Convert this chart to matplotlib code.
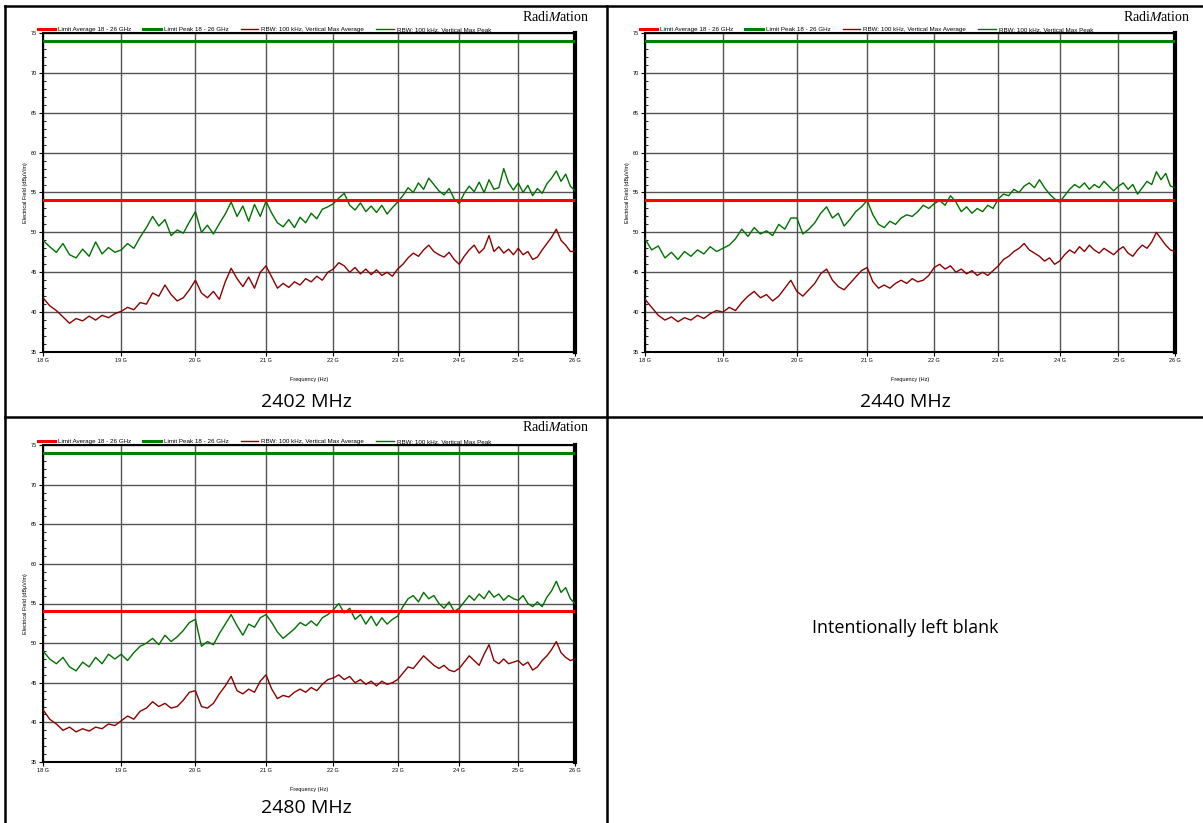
import numpy as np
import matplotlib
matplotlib.use('Agg')
from matplotlib import pyplot as plt
from matplotlib.lines import Line2D
from matplotlib.ticker import FixedLocator, MultipleLocator, NullLocator

plt.rcParams['font.family'] = ['Liberation Sans', 'DejaVu Sans']
plt.rcParams['mathtext.fontset'] = 'stix'

# frequency axis (GHz), sweep 18 - 26 GHz
tick_ghz = [18, 19, 20, 21, 22, 23, 24, 25, 26]
tick_labels = ['18 G', '19 G', '20 G', '21 G', '22 G', '23 G', '24 G', '25 G', '26 G']
limit_average = 54.0
limit_peak = 74.0

# 2402 MHz, 12 samples per GHz
peak_2402 = [
    49.0, 48.2, 47.5, 48.6, 47.2, 46.8, 47.9, 47.0, 48.8, 47.3, 48.1, 47.5,
    47.8, 48.6, 48.0, 49.4, 50.6, 52.0, 50.8, 51.6, 49.6, 50.3, 49.9, 51.3,
    52.6, 50.0, 50.9, 49.8, 51.1, 52.3, 53.8, 52.0, 53.3, 51.4, 53.5, 52.0,
    53.9, 52.4, 51.2, 50.7, 51.6, 50.6, 51.9, 51.2, 52.4, 51.7, 52.9, 53.2,
    53.6, 54.3, 54.9, 53.4, 52.8, 53.7, 52.6, 53.3, 52.5, 53.4, 52.3, 53.1,
    53.8, 54.6, 55.6, 55.0, 56.2, 55.4, 56.8, 56.0, 55.2, 54.7, 55.5, 54.2,
    53.6, 54.9, 55.8, 55.1, 56.3, 55.0, 56.6, 55.4, 55.6, 58.0, 56.2, 55.3,
    56.2, 55.0, 55.9, 54.6, 55.5, 54.9, 56.1, 56.8, 57.7, 56.4, 57.3, 55.8,
    55.2]
avg_2402 = [
    41.8, 40.8, 40.2, 39.4, 38.6, 39.2, 38.9, 39.5, 39.0, 39.6, 39.3, 39.8,
    40.1, 40.6, 40.3, 41.2, 41.0, 42.4, 42.0, 43.4, 42.2, 41.4, 41.8, 42.8,
    44.0, 42.4, 41.8, 42.6, 41.6, 43.8, 45.5, 44.2, 43.2, 44.4, 43.0, 45.0,
    45.8, 44.4, 43.0, 43.6, 43.1, 43.8, 43.4, 44.2, 43.8, 44.5, 44.0, 45.0,
    45.4, 46.2, 45.8, 45.0, 45.6, 44.8, 45.4, 44.7, 45.3, 44.6, 45.0, 44.5,
    45.4, 46.0, 46.8, 47.4, 47.0, 47.8, 48.4, 47.6, 47.2, 46.9, 47.5, 46.6,
    46.0, 47.0, 47.8, 48.4, 47.4, 48.0, 49.6, 47.6, 48.2, 47.4, 47.9, 47.2,
    48.0, 47.2, 47.6, 46.6, 46.9, 47.8, 48.6, 49.4, 50.4, 49.0, 48.4, 47.6,
    47.6]

# 2440 MHz
peak_2440 = [
    49.2, 47.8, 48.3, 46.8, 47.5, 46.6, 47.6, 47.0, 47.8, 47.3, 48.2, 47.6,
    48.0, 48.4, 49.2, 50.4, 49.5, 50.6, 49.8, 50.2, 49.6, 51.0, 50.4, 51.8,
    51.8, 49.8, 50.4, 51.2, 52.4, 53.2, 51.8, 52.4, 50.8, 51.6, 52.6, 53.2,
    54.0, 52.2, 51.0, 50.6, 51.4, 51.0, 51.8, 52.2, 52.0, 52.6, 53.4, 53.0,
    53.6, 54.0, 53.4, 54.6, 53.8, 52.6, 53.2, 52.4, 53.0, 52.6, 53.4, 53.0,
    54.2, 54.8, 54.6, 55.4, 55.0, 55.8, 56.2, 55.6, 56.6, 55.6, 54.8, 54.2,
    53.8, 54.6, 55.4, 56.0, 55.6, 56.2, 55.4, 56.0, 55.6, 56.4, 55.8, 55.2,
    55.8, 56.2, 55.4, 56.0, 54.8, 55.6, 56.4, 56.0, 57.6, 56.6, 57.4, 55.8,
    55.6]
avg_2440 = [
    41.6, 40.6, 39.6, 39.0, 39.4, 38.8, 39.3, 39.0, 39.6, 39.2, 39.8, 40.2,
    40.0, 40.6, 40.2, 41.2, 42.0, 42.6, 41.8, 42.2, 41.4, 42.0, 43.0, 44.0,
    42.6, 42.0, 42.8, 43.6, 44.8, 45.4, 44.0, 43.2, 42.8, 43.6, 44.4, 45.2,
    45.6, 43.8, 43.0, 43.4, 43.0, 43.6, 44.0, 43.6, 44.2, 43.8, 44.0, 44.6,
    45.6, 46.0, 45.4, 45.8, 45.0, 45.4, 44.8, 45.2, 44.6, 45.0, 44.6, 45.2,
    45.8, 46.6, 47.0, 47.6, 48.0, 48.6, 47.8, 47.4, 47.0, 46.4, 46.8, 46.0,
    46.4, 47.2, 47.8, 47.4, 48.2, 47.6, 48.4, 47.8, 47.4, 48.0, 47.6, 47.2,
    47.8, 48.2, 47.4, 47.0, 47.8, 48.4, 48.0, 48.8, 50.0, 49.2, 48.4, 47.8,
    47.6]

# 2480 MHz
peak_2480 = [
    49.0, 48.0, 47.4, 48.2, 47.0, 46.5, 47.6, 47.0, 48.2, 47.4, 48.6, 48.0,
    48.6, 47.8, 48.8, 49.6, 50.0, 50.6, 49.8, 51.0, 50.2, 50.8, 51.6, 52.6,
    53.0, 49.6, 50.2, 49.8, 51.2, 52.4, 53.6, 52.2, 51.0, 52.4, 52.0, 53.2,
    53.6, 52.6, 51.4, 50.6, 51.2, 51.8, 52.6, 52.2, 52.8, 52.2, 53.2, 53.6,
    54.2, 55.0, 53.8, 54.4, 53.0, 53.6, 52.4, 53.4, 52.2, 53.2, 52.4, 53.0,
    53.4, 54.6, 55.6, 56.0, 55.2, 56.4, 55.6, 56.0, 55.0, 54.4, 55.2, 54.0,
    54.4, 55.2, 56.0, 55.4, 56.2, 55.6, 56.6, 55.8, 56.2, 55.4, 56.0, 55.6,
    55.4, 56.0, 55.0, 54.6, 55.2, 54.6, 55.8, 56.6, 57.8, 56.4, 57.0, 55.6,
    55.0]
avg_2480 = [
    41.6, 40.4, 39.8, 39.0, 39.4, 38.8, 39.2, 38.9, 39.4, 39.2, 39.8, 39.6,
    40.2, 40.8, 40.4, 41.4, 41.8, 42.6, 42.0, 42.4, 41.8, 42.0, 42.8, 43.8,
    44.0, 42.0, 41.8, 42.4, 43.6, 44.6, 45.8, 44.0, 43.6, 44.2, 43.8, 45.2,
    46.0, 44.2, 43.0, 43.4, 43.2, 43.8, 44.2, 43.8, 44.4, 44.0, 44.8, 45.4,
    45.6, 46.0, 45.4, 45.8, 45.0, 45.4, 44.8, 45.2, 44.6, 45.2, 44.8, 45.0,
    45.4, 46.2, 47.0, 46.8, 47.6, 48.4, 47.8, 47.2, 46.8, 47.2, 46.6, 46.4,
    46.8, 47.6, 48.4, 47.8, 47.2, 48.6, 49.8, 47.8, 47.4, 48.0, 47.4, 47.6,
    47.8, 47.2, 47.6, 46.6, 47.0, 47.8, 48.4, 49.2, 50.2, 48.8, 48.2, 47.8,
    48.0]

captions = ['2402 MHz', '2440 MHz', '2480 MHz']
blank_text = 'Intentionally left blank'

W, H = 1203, 823


def fx(px):
    return px / W


def fy(py):
    return 1 - py / H


def draw_panel(ax, peak, average):
    f_peak = np.linspace(18e9, 26e9, len(peak))
    f_avg = np.linspace(18e9, 26e9, len(average))

    ax.axhline(limit_average, color='#ff0000', lw=2.2, zorder=4, label='Limit Average 18 - 26 GHz')
    ax.axhline(limit_peak, color='#008000', lw=2.2, zorder=4, label='Limit Peak 18 - 26 GHz')
    ax.plot(f_avg, average, color='#8b0000', lw=1.0, zorder=3, label='RBW: 100 kHz, Vertical Max Average')
    ax.plot(f_peak, peak, color='#007000', lw=1.0, zorder=3, label='RBW: 100 kHz, Vertical Max Peak')

    ax.set_xscale('log')
    ax.set_xlim(18e9, 26e9)
    ax.set_ylim(35, 75)
    ax.xaxis.set_major_locator(FixedLocator([g * 1e9 for g in tick_ghz]))
    ax.xaxis.set_minor_locator(NullLocator())
    ax.set_xticklabels(tick_labels)
    ax.yaxis.set_major_locator(MultipleLocator(5))
    ax.yaxis.set_minor_locator(MultipleLocator(1))

    ax.tick_params(which='major', direction='out', length=3, width=0.8, labelsize=4, pad=1.5)
    ax.tick_params(which='minor', axis='y', direction='in', length=2, width=0.6)
    ax.grid(True, which='major', color='#555555', lw=1.0)
    ax.set_axisbelow(True)

    for side in ['left', 'bottom', 'top']:
        ax.spines[side].set_linewidth(1.5)
    ax.spines['right'].set_linewidth(3)

    ax.set_ylabel('Electrical Field (dBµV/m)', fontsize=4, labelpad=1.5)
    ax.set_xlabel('Frequency (Hz)', fontsize=4, labelpad=10)

    ax.legend(loc='center left', bbox_to_anchor=(-0.01, 1.012), ncol=4, fontsize=4.5,
              frameon=False, handlelength=2.8, columnspacing=1.9, handletextpad=0.5,
              borderaxespad=0, borderpad=0)


fig = plt.figure(figsize=(12.03, 8.23), dpi=100)

panels = [
    (43, 33, 532, 319, peak_2402, avg_2402),
    (645, 33, 530, 319, peak_2440, avg_2440),
    (43, 445, 532, 317, peak_2480, avg_2480),
]
caption_pos = [(306, 402), (905, 402), (306, 808)]
logo_pos = [(589, 17), (1190, 17), (589, 427)]

for (x0, y0, w, h, peak, average), (cx, cy), (lx, ly), cap in zip(panels, caption_pos, logo_pos, captions):
    ax = fig.add_axes([fx(x0), fy(y0 + h), w / W, h / H])
    draw_panel(ax, peak, average)
    fig.text(fx(lx), fy(ly), r'Radi$\mathit{M}$ation', ha='right', va='center',
             fontsize=10, family='Liberation Serif')
    fig.text(fx(cx), fy(cy), cap, ha='center', va='center', fontsize=14, family='Open Sans')

fig.text(fx(905), fy(628), blank_text, ha='center', va='center', fontsize=13, family='Open Sans')

# table borders
lw = 1.8
fig.add_artist(Line2D([fx(5), 1], [fy(6), fy(6)], color='black', lw=lw))
fig.add_artist(Line2D([fx(5), fx(5)], [0, fy(6)], color='black', lw=lw))
fig.add_artist(Line2D([fx(607), fx(607)], [0, fy(6)], color='black', lw=lw))
fig.add_artist(Line2D([fx(5), 1], [fy(417), fy(417)], color='black', lw=lw))

fig.savefig('out.png', dpi=100)
